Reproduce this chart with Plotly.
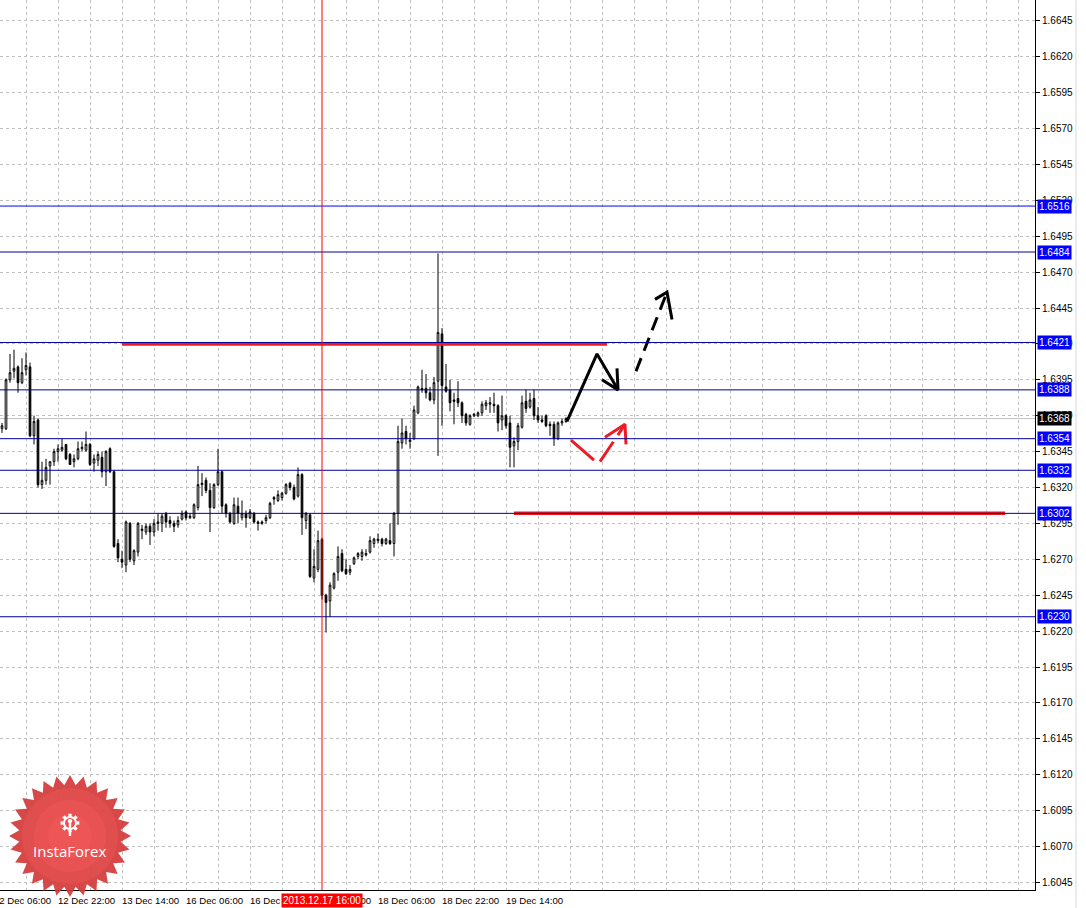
import math
import plotly.graph_objects as go

# ---------------- data (H1 bars, first bar = 2013-12-12 08:00) ----------------
bar_open = [1.6361,1.6361,1.6395,1.6401,1.6404,1.6393,1.6402,1.6404,1.6356,1.6367,
            1.6322,1.6325,1.6335,1.6338,1.6345,1.6346,1.6350,1.6343,1.6338,1.6340,
            1.6347,1.6346,1.6350,1.6337,1.6339,1.6341,1.6331,1.6347,1.6331,1.6281,
            1.6270,1.6266,1.6295,1.6269,1.6275,1.6290,1.6289,1.6293,1.6289,1.6295,
            1.6295,1.6302,1.6297,1.6295,1.6294,1.6298,1.6303,1.6299,1.6299,1.6306,
            1.6322,1.6325,1.6318,1.6306,1.6322,1.6331,1.6308,1.6302,1.6295,1.6307,
            1.6299,1.6302,1.6299,1.6302,1.6296,1.6295,1.6297,1.6299,1.6313,1.6311,
            1.6313,1.6316,1.6323,1.6320,1.6314,1.6329,1.6297,1.6301,1.6257,1.6263,
            1.6284,1.6245,1.6241,1.6250,1.6261,1.6274,1.6263,1.6261,1.6267,1.6272,
            1.6272,1.6273,1.6275,1.6281,1.6283,1.6284,1.6281,1.6283,1.6281,1.6302,
            1.6351,1.6359,1.6352,1.6354,1.6372,1.6389,1.6389,1.6386,1.6381,1.6394,
            1.6427,1.6390,1.6388,1.6381,1.6382,1.6379,1.6371,1.6364,1.6370,1.6370,
            1.6372,1.6377,1.6378,1.6378,1.6377,1.6367,1.6370,1.6365,1.6349,1.6352,
            1.6362,1.6380,1.6376,1.6382,1.6370,1.6367,1.6370,1.6364,1.6364,1.6354,
            1.6365,1.6366]
bar_high = [1.6365,1.6396,1.6413,1.6416,1.6405,1.6410,1.6414,1.6407,1.6370,1.6368,
            1.6338,1.6340,1.6338,1.6347,1.6350,1.6354,1.6350,1.6344,1.6343,1.6352,
            1.6352,1.6359,1.6351,1.6343,1.6345,1.6345,1.6346,1.6348,1.6332,1.6284,
            1.6276,1.6297,1.6296,1.6277,1.6296,1.6294,1.6295,1.6295,1.6298,1.6302,
            1.6302,1.6303,1.6300,1.6297,1.6300,1.6304,1.6304,1.6302,1.6309,1.6335,
            1.6330,1.6327,1.6323,1.6323,1.6347,1.6332,1.6309,1.6303,1.6313,1.6313,
            1.6311,1.6304,1.6305,1.6303,1.6297,1.6297,1.6301,1.6310,1.6314,1.6318,
            1.6317,1.6323,1.6324,1.6322,1.6334,1.6330,1.6303,1.6302,1.6277,1.6290,
            1.6285,1.6246,1.6254,1.6261,1.6279,1.6277,1.6270,1.6266,1.6272,1.6275,
            1.6277,1.6277,1.6286,1.6285,1.6288,1.6285,1.6285,1.6295,1.6303,1.6363,
            1.6368,1.6363,1.6358,1.6377,1.6391,1.6402,1.6399,1.6390,1.6397,1.6483,
            1.6431,1.6406,1.6395,1.6386,1.6394,1.6380,1.6372,1.6371,1.6372,1.6373,
            1.6380,1.6381,1.6383,1.6386,1.6378,1.6384,1.6371,1.6370,1.6355,1.6365,
            1.6384,1.6388,1.6386,1.6388,1.6376,1.6370,1.6371,1.6366,1.6366,1.6366,
            1.6368,1.6369]
bar_low = [1.6358,1.6360,1.6393,1.6396,1.6386,1.6392,1.6398,1.6355,1.6350,1.6320,
           1.6319,1.6322,1.6322,1.6335,1.6338,1.6345,1.6339,1.6336,1.6334,1.6339,
           1.6345,1.6345,1.6335,1.6331,1.6335,1.6327,1.6321,1.6330,1.6278,1.6268,
           1.6264,1.6261,1.6268,1.6266,1.6272,1.6284,1.6287,1.6280,1.6286,1.6290,
           1.6289,1.6292,1.6292,1.6289,1.6292,1.6297,1.6297,1.6298,1.6298,1.6304,
           1.6314,1.6316,1.6289,1.6305,1.6321,1.6302,1.6299,1.6295,1.6294,1.6295,
           1.6297,1.6292,1.6298,1.6295,1.6290,1.6294,1.6295,1.6298,1.6308,1.6310,
           1.6311,1.6315,1.6318,1.6311,1.6313,1.6287,1.6291,1.6257,1.6254,1.6261,
           1.6242,1.6219,1.6230,1.6249,1.6255,1.6261,1.6259,1.6259,1.6266,1.6270,
           1.6269,1.6272,1.6274,1.6278,1.6281,1.6279,1.6280,1.6280,1.6272,1.6294,
           1.6347,1.6350,1.6347,1.6353,1.6371,1.6386,1.6382,1.6380,1.6378,1.6342,
           1.6363,1.6386,1.6373,1.6364,1.6376,1.6365,1.6363,1.6363,1.6369,1.6369,
           1.6370,1.6374,1.6372,1.6372,1.6359,1.6360,1.6361,1.6334,1.6334,1.6346,
           1.6361,1.6372,1.6375,1.6367,1.6365,1.6365,1.6362,1.6356,1.6349,1.6353,
           1.6363,1.6365]
bar_close = [1.6363,1.6395,1.6400,1.6403,1.6393,1.6400,1.6405,1.6356,1.6366,1.6322,
             1.6325,1.6334,1.6338,1.6345,1.6347,1.6348,1.6340,1.6336,1.6340,1.6347,
             1.6348,1.6350,1.6336,1.6340,1.6343,1.6331,1.6345,1.6331,1.6279,1.6271,
             1.6268,1.6296,1.6270,1.6276,1.6295,1.6291,1.6293,1.6289,1.6295,1.6296,
             1.6300,1.6296,1.6295,1.6293,1.6297,1.6302,1.6299,1.6300,1.6308,1.6322,
             1.6323,1.6318,1.6306,1.6322,1.6331,1.6307,1.6302,1.6296,1.6308,1.6302,
             1.6302,1.6299,1.6303,1.6296,1.6295,1.6296,1.6299,1.6309,1.6312,1.6315,
             1.6316,1.6322,1.6320,1.6312,1.6329,1.6299,1.6302,1.6258,1.6265,1.6283,
             1.6245,1.6240,1.6252,1.6260,1.6272,1.6262,1.6260,1.6263,1.6271,1.6274,
             1.6275,1.6274,1.6283,1.6284,1.6284,1.6281,1.6284,1.6281,1.6302,1.6352,
             1.6358,1.6354,1.6353,1.6374,1.6390,1.6388,1.6386,1.6381,1.6393,1.6428,
             1.6391,1.6387,1.6379,1.6380,1.6379,1.6370,1.6365,1.6370,1.6371,1.6372,
             1.6378,1.6379,1.6379,1.6377,1.6365,1.6370,1.6363,1.6348,1.6352,1.6363,
             1.6379,1.6375,1.6381,1.6370,1.6367,1.6366,1.6363,1.6363,1.6354,1.6365,
             1.6366,1.6368]
bar_index = list(range(len(bar_open)))

# time-axis labels (bar index -> text)
time_tick_idx = [-2, 14, 30, 46, 62, 78, 94, 110, 126]
time_tick_text = ["12 Dec 06:00", "12 Dec 22:00", "13 Dec 14:00", "16 Dec 06:00",
                  "16 Dec 22:00", "17 Dec 14:00", "18 Dec 06:00", "18 Dec 22:00",
                  "19 Dec 14:00"]
cursor_idx = 80
cursor_text = "2013.12.17 16:00"

price_ticks = [1.6045, 1.6070, 1.6095, 1.6120, 1.6145, 1.6170, 1.6195, 1.6220,
               1.6245, 1.6270, 1.6295, 1.6320, 1.6345, 1.6370, 1.6395, 1.6420,
               1.6445, 1.6470, 1.6495, 1.6520, 1.6545, 1.6570, 1.6595, 1.6620, 1.6645]

level_prices = [1.6516, 1.6484, 1.6421, 1.6388, 1.6354, 1.6332, 1.6302, 1.6230]
level_colors = ["#0000FF", "#00009A", "#00009A", "#00009A", "#00009A", "#00009A", "#00009A", "#00009A"]
bid_price = 1.6368

# analyst drawings (bar index, price)
red_level_y = [1.6420, 1.6302]
red_level_x0 = [30, 128]
red_level_x1 = [151.25, 250.75]

black_path_x = [141.25, 148.75, 154.0]
black_path_y = [1.6366, 1.6413, 1.6388]
black_head_x = [150.0, 154.0, 153.75]
black_head_y = [1.6395, 1.6388, 1.6403]

dash_path_x = [158.5, 166.25]
dash_path_y = [1.6401, 1.6456]
dash_head_x = [163.25, 166.25, 167.5]
dash_head_y = [1.6451, 1.6456, 1.6437]

red_leg1_x = [142.25, 148.0]
red_leg1_y = [1.6353, 1.6339]
red_leg2_x = [149.5, 155.75]
red_leg2_y = [1.6338, 1.6364]
red_head_x = [150.75, 155.75, 156.0]
red_head_y = [1.6355, 1.6364, 1.6350]

# ---------------- layout constants ----------------
W, H = 1086, 908
PLOT_W, PLOT_H = 1035, 890
X_RANGE = [-0.5, 258.25]
Y_RANGE = [1.60397, 1.66595]
FONT = "Liberation Sans"


def xpaper(i):
    return (i - X_RANGE[0]) / (X_RANGE[1] - X_RANGE[0])


fig = go.Figure()

fig.add_trace(go.Candlestick(
    x=bar_index, open=bar_open, high=bar_high, low=bar_low, close=bar_close,
    increasing=dict(line=dict(color="black", width=1), fillcolor="white"),
    decreasing=dict(line=dict(color="black", width=1), fillcolor="black"),
    whiskerwidth=0, showlegend=False, hoverinfo="skip"))


def add_line(xs, ys, color, width, dash=None):
    fig.add_trace(go.Scatter(x=xs, y=ys, mode="lines",
                             line=dict(color=color, width=width, dash=dash),
                             showlegend=False, hoverinfo="skip"))


# red thick horizontal levels
for y, x0, x1 in zip(red_level_y, red_level_x0, red_level_x1):
    add_line([x0, x1], [y, y], "#ED1C24", 3.5)

# black solid arrow
add_line(black_path_x, black_path_y, "black", 3)
add_line(black_head_x, black_head_y, "black", 3)
# black dashed arrow
add_line(dash_path_x, dash_path_y, "black", 3, "14px,8px")
add_line(dash_head_x, dash_head_y, "black", 3)
# red dashed arrow
add_line(red_leg1_x, red_leg1_y, "#ED1C24", 3)
add_line(red_leg2_x, red_leg2_y, "#ED1C24", 3, "24px,8px")
add_line(red_head_x, red_head_y, "#ED1C24", 3)

shapes = []
# bid line
shapes.append(dict(type="line", xref="paper", x0=0, x1=1, yref="y", y0=bid_price, y1=bid_price,
                   line=dict(color="#C0C0C0", width=1), layer="below"))
# horizontal levels
for p, c in zip(level_prices, level_colors):
    shapes.append(dict(type="line", xref="paper", x0=0, x1=1, yref="y", y0=p, y1=p,
                       line=dict(color=c, width=1), layer="above"))
# red crosshair vertical
shapes.append(dict(type="line", xref="x", x0=cursor_idx, x1=cursor_idx, yref="paper", y0=0, y1=1,
                   line=dict(color="#FF0000", width=1), layer="above"))
# right window border
shapes.append(dict(type="line", xref="paper", x0=1076 / PLOT_W, x1=1076 / PLOT_W,
                   yref="paper", y0=1.05, y1=-0.05, line=dict(color="#D8D8D8", width=1)))

# ---- InstaForex logo (decoration) ----
cx, cy = 70, 836


def to_paper(px, py):
    return px / PLOT_W, 1 - py / PLOT_H


def poly_path(pts):
    s = ""
    for k, (px, py) in enumerate(pts):
        x, y = to_paper(px, py)
        s += ("M" if k == 0 else "L") + f"{x:.5f},{y:.5f} "
    return s + "Z"


npts = 28
star = []
for k in range(2 * npts):
    a = math.pi / 2 + k * math.pi / npts
    r = 61 if k % 2 == 0 else 51
    star.append((cx + r * math.cos(a), cy - r * math.sin(a)))
shapes.append(dict(type="path", xref="paper", yref="paper", path=poly_path(star),
                   fillcolor="rgba(212,58,58,0.92)", line=dict(width=0), layer="above"))
for rr, op in [(48, 0.25), (36, 0.25), (22, 0.25)]:
    circ = [(cx + rr * math.cos(2 * math.pi * t / 60), cy - rr * math.sin(2 * math.pi * t / 60)) for t in range(60)]
    shapes.append(dict(type="path", xref="paper", yref="paper", path=poly_path(circ),
                       fillcolor=f"rgba(255,95,95,{op})", line=dict(width=0), layer="above"))
# gear icon
gx, gy = 70, 823
gear = []
for k in range(16):
    a = math.pi / 2 + k * math.pi / 8
    for da, r in [(-0.18, 9.5 if k % 2 == 0 else 7), (0.18, 9.5 if k % 2 == 0 else 7)]:
        gear.append((gx + r * math.cos(a + da), gy - r * math.sin(a + da)))
shapes.append(dict(type="path", xref="paper", yref="paper", path=poly_path(gear),
                   fillcolor="white", line=dict(width=0), layer="above"))
inner = [(gx + 5 * math.cos(2 * math.pi * t / 30), gy - 5 * math.sin(2 * math.pi * t / 30)) for t in range(30)]
shapes.append(dict(type="path", xref="paper", yref="paper", path=poly_path(inner),
                   fillcolor="rgb(240,80,80)", line=dict(width=0), layer="above"))
dot = [(gx + 2.2 * math.cos(2 * math.pi * t / 20), gy - 2 - 2.2 * math.sin(2 * math.pi * t / 20)) for t in range(20)]
shapes.append(dict(type="path", xref="paper", yref="paper", path=poly_path(dot),
                   fillcolor="white", line=dict(width=0), layer="above"))
stem = [(68.8, 823), (71.2, 823), (71.2, 836), (68.8, 836)]
shapes.append(dict(type="path", xref="paper", yref="paper", path=poly_path(stem),
                   fillcolor="white", line=dict(width=0), layer="above"))

annotations = []
# time labels, left-aligned at their grid line
label_y = 1 - 900 / PLOT_H
for i, t in zip(time_tick_idx, time_tick_text):
    annotations.append(dict(xref="paper", yref="paper", x=xpaper(i), y=label_y, text=t,
                            xanchor="left", yanchor="middle", showarrow=False, xshift=-2,
                            font=dict(family=FONT, size=9.6, color="black")))
annotations.append(dict(xref="paper", yref="paper", x=xpaper(cursor_idx), y=label_y, text=cursor_text,
                        xanchor="center", yanchor="middle", showarrow=False, bgcolor="#FF0000",
                        borderpad=1, font=dict(family=FONT, size=10, color="white")))
# price labels on the right scale
for p in level_prices:
    annotations.append(dict(xref="paper", yref="y", x=1 + 2 / PLOT_W, y=p, text=f"{p:.4f}",
                            xanchor="left", yanchor="middle", showarrow=False, bgcolor="#0000FF",
                            borderpad=1, font=dict(family=FONT, size=10, color="white")))
annotations.append(dict(xref="paper", yref="y", x=1 + 2 / PLOT_W, y=bid_price, text=f"{bid_price:.4f}",
                        xanchor="left", yanchor="middle", showarrow=False, bgcolor="black",
                        borderpad=1, font=dict(family=FONT, size=10, color="white")))
# logo text
lx, ly = to_paper(70, 851)
annotations.append(dict(xref="paper", yref="paper", x=lx, y=ly, text="InstaForex",
                        xanchor="center", yanchor="middle", showarrow=False,
                        font=dict(family="Open Sans", size=15, color="white")))

fig.update_layout(
    width=W, height=H,
    margin=dict(l=0, r=W - PLOT_W, t=0, b=H - PLOT_H, pad=0),
    paper_bgcolor="white", plot_bgcolor="white",
    boxgap=0.4,
    showlegend=False,
    shapes=shapes, annotations=annotations,
    xaxis=dict(range=X_RANGE, rangeslider=dict(visible=False), showticklabels=False,
               ticks="", tick0=6, dtick=8, showgrid=True, gridcolor="#C0C0C0",
               griddash="3px,3px", gridwidth=1, zeroline=False,
               showline=True, linecolor="black", linewidth=1, fixedrange=True),
    yaxis=dict(range=Y_RANGE, side="right", tickmode="array", tickvals=price_ticks,
               ticktext=[f"{v:.4f}" for v in price_ticks], ticks="outside", ticklen=4,
               tickcolor="black", showgrid=True, gridcolor="#C0C0C0", griddash="3px,3px",
               gridwidth=1, zeroline=False, showline=True, linecolor="black", linewidth=1,
               tickfont=dict(family=FONT, size=10, color="black"), fixedrange=True),
)

fig.write_html("out.html", config={"displayModeBar": False},
               post_script="document.body.style.margin='0';document.body.style.overflow='hidden';")
